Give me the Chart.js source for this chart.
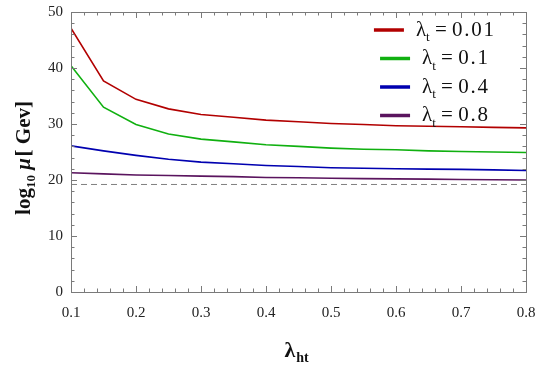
<!DOCTYPE html>
<html>
<head>
<meta charset="utf-8">
<script src="https://cdn.jsdelivr.net/npm/chart.js@4/dist/chart.umd.min.js"></script>
<style>
  html, body { margin: 0; padding: 0; background: #fff; }
  #wrap { width: 540px; height: 366px; position: relative; }
</style>
</head>
<body>
<div id="wrap"><canvas id="chart"></canvas></div>
<script>
// lambda_ht values on the x axis
const lambdaHt = [0.1, 0.15, 0.2, 0.25, 0.3, 0.35, 0.4, 0.45, 0.5, 0.55, 0.6, 0.65, 0.7, 0.75, 0.8];

// log10 mu for each lambda_t
const mu001 = [47.1, 37.7, 34.4, 32.7, 31.7, 31.2, 30.7, 30.4, 30.1, 29.9, 29.7, 29.6, 29.5, 29.4, 29.3];
const mu01  = [40.4, 33.0, 29.9, 28.2, 27.3, 26.8, 26.3, 26.0, 25.7, 25.5, 25.4, 25.2, 25.1, 25.0, 24.9];
const mu04  = [26.1, 25.2, 24.4, 23.7, 23.2, 22.9, 22.6, 22.4, 22.2, 22.1, 22.0, 21.95, 21.9, 21.8, 21.7];
const mu08  = [21.3, 21.1, 20.9, 20.8, 20.7, 20.6, 20.45, 20.4, 20.3, 20.25, 20.2, 20.15, 20.1, 20.05, 20.0];
const dashedLevel = 19.2;

const seriesLabels = ['0.01', '0.1', '0.4', '0.8'];
const seriesColors = ['#b20000', '#10b010', '#0000b0', '#5a145e'];
const xTicks = [0.1, 0.2, 0.3, 0.4, 0.5, 0.6, 0.7, 0.8];
const yTicks = [0, 10, 20, 30, 40, 50];

const toPoints = arr => arr.map((v, i) => ({ x: lambdaHt[i], y: v }));
const serif = '"Liberation Serif", "DejaVu Serif", serif';

// frame, inward ticks, titles and legend with subscripts
const decorPlugin = {
  id: 'decor',
  afterDraw(chart) {
    const { ctx, chartArea: a, scales: { x, y } } = chart;
    ctx.save();
    ctx.strokeStyle = '#7a7a7a';
    ctx.lineWidth = 1;
    ctx.strokeRect(a.left + 0.5, a.top + 0.5, a.right - a.left, a.bottom - a.top);

    ctx.beginPath();
    for (let v = 0.1; v <= 0.8001; v += 0.02) {
      const px = Math.round(x.getPixelForValue(v)) + 0.5;
      const major = Math.abs(v * 10 - Math.round(v * 10)) < 1e-6;
      const len = major ? 6 : 3.5;
      ctx.moveTo(px, a.bottom); ctx.lineTo(px, a.bottom - len);
      ctx.moveTo(px, a.top); ctx.lineTo(px, a.top + len);
    }
    for (let v = 0; v <= 50; v += 2) {
      const py = Math.round(y.getPixelForValue(v)) + 0.5;
      const len = v % 10 === 0 ? 6 : 3.5;
      ctx.moveTo(a.left, py); ctx.lineTo(a.left + len, py);
      ctx.moveTo(a.right, py); ctx.lineTo(a.right - len, py);
    }
    ctx.stroke();

    // y title
    ctx.fillStyle = '#111';
    ctx.save();
    ctx.translate(23, (a.top + a.bottom) / 2 + 6);
    ctx.rotate(-Math.PI / 2);
    ctx.textBaseline = 'alphabetic';
    const parts = [
      ['bold 21px ' + serif, 'log', 0],
      ['bold 13px ' + serif, '10', 5],
      ['bold italic 21px ' + serif, ' \u03bc', 0],
      ['bold 21px ' + serif, '\u200a[ Gev]', 0]
    ];
    let w = 0;
    parts.forEach(p => { ctx.font = p[0]; w += ctx.measureText(p[1]).width; });
    let cx = -w / 2;
    parts.forEach(p => {
      ctx.font = p[0];
      ctx.fillText(p[1], cx, p[2] + 7);
      cx += ctx.measureText(p[1]).width;
    });
    ctx.restore();

    // x title
    ctx.font = 'bold 22px ' + serif;
    ctx.textBaseline = 'alphabetic';
    const xt = (a.left + a.right) / 2 - 14;
    ctx.fillText('\u03bb', xt, 357);
    const lw = ctx.measureText('\u03bb').width;
    ctx.font = 'bold 14px ' + serif;
    ctx.fillText('ht', xt + lw + 1, 362);

    // legend
    seriesLabels.forEach((lab, i) => {
      const cy = 30 + i * 28.5;
      ctx.font = '21px ' + serif;
      const tail = ' = ' + lab.split('').join('\u200a');
      const wl = ctx.measureText('\u03bb').width;
      ctx.font = '13px ' + serif;
      const ws = ctx.measureText('t').width;
      ctx.font = '21px ' + serif;
      const wt = ctx.measureText(tail).width;
      const total = 30 + 12 + wl + ws + wt;
      const center = 434;
      let sx = center - total / 2;
      ctx.strokeStyle = seriesColors[i];
      ctx.lineWidth = 3.5;
      ctx.beginPath();
      ctx.moveTo(sx, cy); ctx.lineTo(sx + 30, cy);
      ctx.stroke();
      sx += 42;
      ctx.fillStyle = '#111';
      ctx.textBaseline = 'middle';
      ctx.fillText('\u03bb', sx, cy);
      sx += wl;
      ctx.font = '13px ' + serif;
      ctx.fillText('t', sx, cy + 8);
      sx += ws;
      ctx.font = '21px ' + serif;
      ctx.fillText(tail, sx, cy);
    });
    ctx.restore();
  }
};

const lineSet = (data, color) => ({
  data: toPoints(data),
  borderColor: color,
  borderWidth: 1.6,
  pointRadius: 0,
  tension: 0,
  fill: false
});

new Chart(document.getElementById('chart'), {
  type: 'line',
  data: {
    datasets: [
      lineSet(mu001, seriesColors[0]),
      lineSet(mu01, seriesColors[1]),
      lineSet(mu04, seriesColors[2]),
      lineSet(mu08, seriesColors[3]),
      {
        data: [{ x: lambdaHt[0], y: dashedLevel }, { x: lambdaHt[lambdaHt.length - 1], y: dashedLevel }],
        borderColor: '#808080',
        borderWidth: 1,
        borderDash: [6, 4],
        pointRadius: 0,
        fill: false
      }
    ]
  },
  options: {
    responsive: true,
    maintainAspectRatio: false,
    animation: false,
    layout: { padding: { left: 0, top: 12, right: 14, bottom: 0 } },
    plugins: { legend: { display: false }, tooltip: { enabled: false } },
    scales: {
      x: {
        type: 'linear',
        min: 0.1,
        max: 0.8,
        afterBuildTicks: s => { s.ticks = xTicks.map(v => ({ value: v })); },
        afterFit: s => { s.height = 74; s.paddingLeft = 0; s.paddingRight = 0; },
        grid: { display: false, drawTicks: false },
        border: { display: false },
        ticks: {
          padding: 12,
          color: '#222',
          font: { family: serif, size: 15 },
          maxRotation: 0,
          callback: v => v.toFixed(1)
        }
      },
      y: {
        min: 0,
        max: 50,
        afterBuildTicks: s => { s.ticks = yTicks.map(v => ({ value: v })); },
        afterFit: s => { s.width = 71; s.paddingTop = 0; s.paddingBottom = 0; },
        grid: { display: false, drawTicks: false },
        border: { display: false },
        ticks: {
          padding: 8,
          color: '#222',
          font: { family: serif, size: 15 }
        }
      }
    }
  },
  plugins: [decorPlugin]
});
</script>
</body>
</html>
